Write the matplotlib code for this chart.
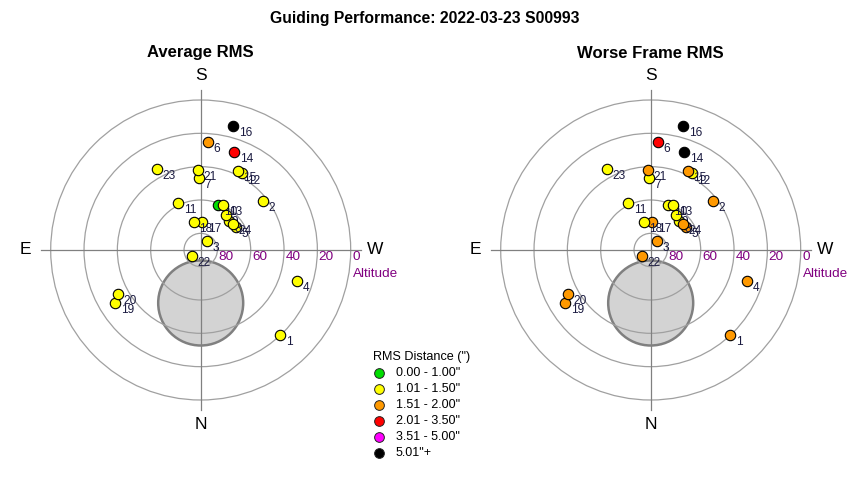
import numpy as np
import matplotlib
matplotlib.use("Agg")
import matplotlib.pyplot as plt
from matplotlib.patches import Circle

plt.rcParams['font.family'] = ['Liberation Sans', 'DejaVu Sans']

# frame number, azimuth (deg, N=0 E=90) and altitude (deg)
frames = [1, 2, 3, 4, 5, 6, 7, 8, 9, 10, 11, 12, 13, 14, 15, 16, 17, 18, 19, 20, 21, 22, 23, 24]
azimuth = [316.9, 231.8, 215.4, 287.8, 236.8, 184.0, 178.9, 225.0, 215.3, 201.2, 154.5, 208.2,
           206.7, 198.9, 205.0, 194.6, 183.3, 166.5, 58.3, 62.1, 177.9, 55.8, 151.7, 230.8]
altitude = [20.1, 42.5, 83.2, 29.3, 64.5, 25.0, 46.8, 65.7, 64.0, 60.9, 58.8, 37.9,
            59.8, 27.7, 37.5, 12.9, 73.2, 72.7, 29.8, 34.0, 42.0, 83.9, 34.8, 65.0]

# RMS bin index per frame (0: <=1.00, 1: 1.01-1.50, 2: 1.51-2.00, 3: 2.01-3.50, 4: 3.51-5.00, 5: >5.01)
avg_bin = [1, 1, 1, 1, 1, 2, 1, 1, 1, 0, 1, 1, 1, 3, 1, 5, 1, 1, 1, 1, 1, 1, 1, 1]
worst_bin = [2, 2, 2, 2, 2, 3, 1, 1, 1, 1, 1, 1, 1, 5, 2, 5, 2, 1, 2, 2, 2, 2, 1, 2]

bin_labels = ['0.00 - 1.00"', '1.01 - 1.50"', '1.51 - 2.00"', '2.01 - 3.50"', '3.51 - 5.00"', '5.01"+']
bin_colors = ['#00dd00', '#ffff00', '#ff9900', '#ff0000', '#ff00ff', '#000000']

alt_rings = [80, 60, 40, 20, 0]

# zenith exclusion disk (offset towards N, radius in degrees)
disk_alt, disk_az, disk_rad = 58.2, 0.0, 25.5

fig = plt.figure(figsize=(8.5, 4.8), dpi=100)
fig.text(0.5, 1 - 18 / 480, "Guiding Performance: 2022-03-23 S00993", ha='center', va='center',
         fontsize=11.3, fontweight='bold')


def to_xy(az, alt):
    r = 90 - np.asarray(alt)
    a = np.radians(np.asarray(az))
    return -r * np.sin(a), -r * np.cos(a)


def sky_panel(cx, title, bins):
    ax = fig.add_axes([(cx - 190) / 850, 40 / 480, 380 / 850, 380 / 480])
    ax.set_xlim(-114, 114)
    ax.set_ylim(-114, 114)
    ax.set_aspect('equal')
    ax.axis('off')

    dx, dy = to_xy(disk_az, disk_alt)
    ax.add_patch(Circle((dx, dy), disk_rad, facecolor='#d3d3d3', edgecolor='#808080', lw=1.8, zorder=1))
    for alt in alt_rings:
        ax.add_patch(Circle((0, 0), 90 - alt, fill=False, edgecolor='#a0a0a0', lw=0.9, zorder=2))
        ax.text(90 - alt + 0.8, -4.3, str(alt), color='#800080', fontsize=9.7, ha='left', va='center')
    ax.plot([-96, 96], [0, 0], color='#808080', lw=0.9, zorder=2)
    ax.plot([0, 0], [-96, 96], color='#808080', lw=0.9, zorder=2)
    ax.text(91.2, -14.4, "Altitude", color='#800080', fontsize=9.7, ha='left', va='center')

    ax.text(0, 105, "S", fontsize=12.5, ha='center', va='center')
    ax.text(0, -104.5, "N", fontsize=12.5, ha='center', va='center')
    ax.text(-105, 0, "E", fontsize=12.5, ha='center', va='center')
    ax.text(104.5, 0, "W", fontsize=12.5, ha='center', va='center')

    x, y = to_xy(azimuth, altitude)
    for i in range(len(frames)):
        ax.plot(x[i], y[i], 'o', ms=7.5, mfc=bin_colors[bins[i]], mec='black', mew=0.8, zorder=3 + 2 * i)
        ax.annotate(str(frames[i]), (x[i], y[i]), xytext=(4.0, -5.2), textcoords='offset points',
                    fontsize=8.6, color='#1a1a40', ha='left', va='center', zorder=4 + 2 * i)

    fig.text(cx / 850, 1 - 53 / 480, title, ha='center', va='center', fontsize=12, fontweight='bold')


sky_panel(200.7, "Average RMS", avg_bin)
sky_panel(650.7, "Worse Frame RMS", worst_bin)

# legend
lg = fig.add_axes([0, 0, 1, 1])
lg.set_xlim(0, 850)
lg.set_ylim(480, 0)
lg.axis('off')
lg.text(373, 357, 'RMS Distance (")', fontsize=9.1, ha='left', va='center')
for i, (lab, col) in enumerate(zip(bin_labels, bin_colors)):
    yy = 373.3 + i * 16
    lg.plot(379, yy, 'o', ms=7, mfc=col, mec='#222222', mew=0.7)
    lg.text(396, yy, lab, fontsize=9.0, ha='left', va='center')

fig.savefig("out.png", dpi=100)
